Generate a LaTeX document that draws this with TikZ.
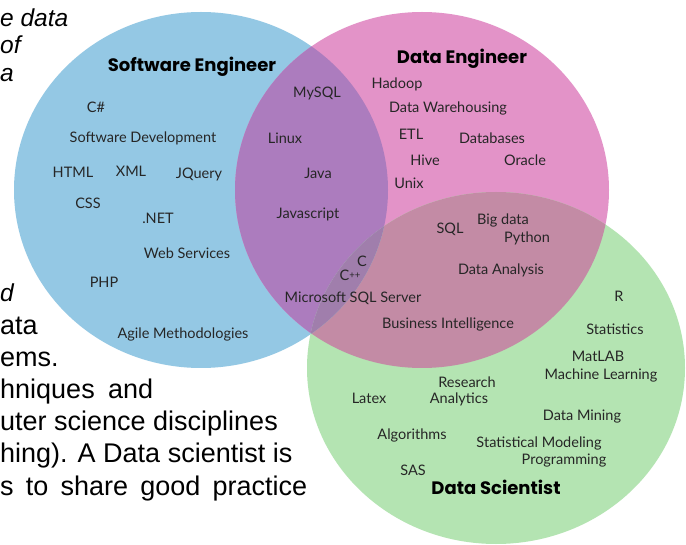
\documentclass[tikz,border=0pt]{standalone}
\usepackage{fontspec}
\setmainfont{Lato}
\newfontfamily\slidefont{Liberation Sans}
\newfontfamily\titlefont{Poppins}

\definecolor{sweblue}{HTML}{94C8E4}
\definecolor{depink}{HTML}{E393C8}
\definecolor{dsgreen}{HTML}{B4E4B2}
\definecolor{swedeover}{HTML}{AC7CBE}
\definecolor{dedsover}{HTML}{C38BA5}
\definecolor{swedsover}{HTML}{A3CBC9}
\definecolor{allover}{HTML}{A07EAC}
\definecolor{skillink}{HTML}{262626}

% the three skill sets
\newcommand\sweshape{(201,190) ellipse [x radius=187pt, y radius=178pt]}
\newcommand\deshape{(422,190) ellipse [x radius=187pt, y radius=178pt]}
\newcommand\dsshape{(496,368) ellipse [x radius=189pt, y radius=176pt]}

\begin{document}
\begin{tikzpicture}[x=1pt,y=-1pt,
  skill/.style={font=\fontsize{14.5}{15}\selectfont, text=skillink,
                inner sep=0pt, text height=10.3pt, text depth=0pt},
  role/.style={font=\titlefont\bfseries\fontsize{18}{20}\selectfont, text=black,
               inner sep=0pt, text height=12.6pt, text depth=0pt},
  slide/.style={font=\slidefont\fontsize{27}{30}\selectfont, text=black,
                anchor=base west, inner sep=0pt},
  slideit/.style={font=\slidefont\itshape\fontsize{24.5}{28}\selectfont,
                  text=black, anchor=base west, inner sep=0pt}]
\useasboundingbox (0,0) rectangle (686,545);
\fill[white] (0,0) rectangle (686,545);

% slide text lying underneath the diagram
\node[slideit] (t1) at (0,27) {e data};
\node[slideit] (t2) at (0,54) {of};
\node[slideit] (t3) at (0,82) {a};
\node[slideit] (t4) at (0,302) {d};
\node[slide] (t5) at (0,335) {ata};
\node[slide] (t6) at (0,367) {ems.};
\node[slide] (t7) at (0,399) {\makebox[153pt][s]{hniques and}};
\node[slide] (t8) at (0,431) {uter science disciplines};
\node[slide] (t9) at (0,463) {hing). A Data scientist is};
\node[slide] (t10) at (0,496) {\makebox[307pt][s]{s to share good practice}};

% circles
\fill[sweblue] \sweshape;
\fill[depink] \deshape;
\fill[dsgreen] \dsshape;
% pairwise overlaps
\begin{scope}
  \clip \sweshape;
  \fill[swedeover] \deshape;
\end{scope}
\begin{scope}
  \clip \deshape;
  \fill[dedsover] \dsshape;
\end{scope}
\begin{scope}
  \clip \sweshape;
  \clip \dsshape;
  \fill[swedsover] (0,0) rectangle (686,545);
\end{scope}
% common to all three
\begin{scope}
  \clip \sweshape;
  \clip \deshape;
  \fill[allover] \dsshape;
\end{scope}

% role titles
\node[role] (swe) at (192,65) {Software Engineer};
\node[role] (de) at (462,57) {Data Engineer};
\node[role] (ds) at (496,488) {Data Scientist};

% software engineer
\node[skill] (csharp) at (96,107) {C\#};
\node[skill] (swdev) at (143,137) {Software Development};
\node[skill] (html) at (73,172) {HTML};
\node[skill] (xml) at (131,171) {XML};
\node[skill] (jquery) at (199,173) {JQuery};
\node[skill] (css) at (88,203) {CSS};
\node[skill] (dotnet) at (158,218) {.NET};
\node[skill] (websvc) at (187,253) {Web Services};
\node[skill] (php) at (104,282) {PHP};
\node[skill] (agile) at (183,333) {Agile Methodologies};

% software + data engineer
\node[skill] (mysql) at (317,92) {MySQL};
\node[skill] (linux) at (285,138) {Linux};
\node[skill] (java) at (318,173) {Java};
\node[skill] (js) at (308,213) {Javascript};

% shared by all
\node[skill] (c) at (362,261) {C};
\node[skill] (cpp) at (350,275) {C{\fontsize{9.5}{9.5}\selectfont\raisebox{1.5pt}{++}}};
\node[skill] (mssql) at (353,297) {Microsoft SQL Server};

% data engineer
\node[skill] (hadoop) at (397,83) {Hadoop};
\node[skill] (dwh) at (448,107) {Data Warehousing};
\node[skill] (etl) at (411,134) {ETL};
\node[skill] (dbs) at (492,138) {Databases};
\node[skill] (hive) at (425,160) {Hive};
\node[skill] (oracle) at (525,160) {Oracle};
\node[skill] (unix) at (409,183) {Unix};

% data engineer + data scientist
\node[skill] (sql) at (450,228) {SQL};
\node[skill] (bigdata) at (503,219) {Big data};
\node[skill] (python) at (527,237) {Python};
\node[skill] (analysis) at (501,269) {Data Analysis};
\node[skill] (bi) at (448,323) {Business Intelligence};

% data scientist
\node[skill] (r) at (619,296) {R};
\node[skill] (stats) at (615,329) {Statistics};
\node[skill] (matlab) at (598,356) {MatLAB};
\node[skill] (ml) at (601,374) {Machine Learning};
\node[skill] (research) at (467,382) {Research};
\node[skill] (analytics) at (459,398) {Analytics};
\node[skill] (latex) at (369,398) {Latex};
\node[skill] (mining) at (582,415) {Data Mining};
\node[skill] (algo) at (412,434) {Algorithms};
\node[skill] (statmod) at (539,442) {Statistical Modeling};
\node[skill] (prog) at (564,459) {Programming};
\node[skill] (sas) at (413,470) {SAS};
\end{tikzpicture}
\end{document}
